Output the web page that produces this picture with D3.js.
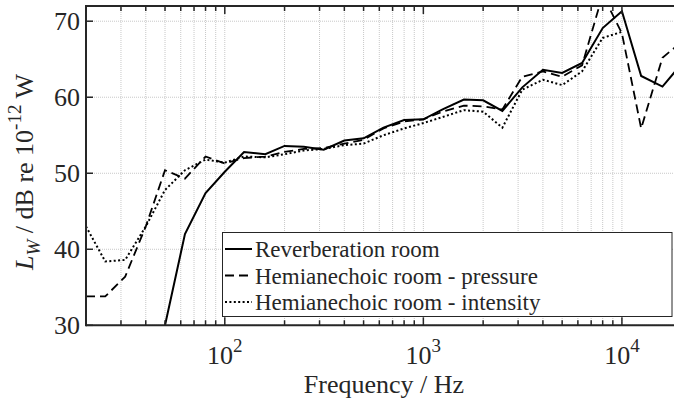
<!DOCTYPE html>
<html>
<head>
<meta charset="utf-8">
<script src="https://cdn.jsdelivr.net/npm/d3@7"></script>
<style>
  body { margin: 0; background: #fff; }
  text { font-family: "Liberation Serif", "Times New Roman", serif; fill: #262626; }
</style>
</head>
<body>
<div id="chart"></div>
<script>
// one-third octave band centres
var freqs = [20, 25, 31.5, 40, 50, 63, 80, 100, 125, 160, 200, 250, 315, 400, 500, 630, 800,
  1000, 1250, 1600, 2000, 2500, 3150, 4000, 5000, 6300, 8000, 10000, 12500, 16000, 20000]

// sound power levels (null = not shown)
var reverbRoom = [null, null, null, null, 30.0, 42.0, 47.4, 50.2, 52.8, 52.5, 53.6, 53.5, 53.1, 54.3, 54.6, 56.0, 57.0,
  57.1, 58.4, 59.7, 59.6, 58.2, 61.3, 63.6, 63.2, 64.5, 69.1, 71.3, 62.8, 61.4, 64.4]
var hemiPressure = [33.8, 33.8, 36.4, 43.0, 50.4, 49.3, 52.2, 51.3, 52.0, 52.2, 52.8, 53.2, 53.3, 53.9, 54.4, 55.9, 56.8,
  57.1, 58.1, 58.9, 58.8, 58.4, 62.7, 63.4, 62.7, 64.2, 73.5, 68.4, 55.9, 65.2, 67.3]
var hemiIntensity = [43.0, 38.4, 38.6, 43.0, 47.8, 50.4, 51.8, 51.4, 52.2, 52.1, 52.5, 53.0, 53.2, 53.7, 53.9, 55.0, 55.9,
  56.6, 57.4, 58.3, 58.1, 56.0, 61.0, 62.3, 61.6, 63.4, 67.8, 68.6, null, null, null]

var seriesNames = ['Reverberation room', 'Hemianechoic room - pressure', 'Hemianechoic room - intensity']
var yTicks = [30, 40, 50, 60, 70]
var xMajor = [100, 1000, 10000]
var xMajorExp = ['2', '3', '4']

var fullW = 674, fullH = 401
// note: "top" is a reserved window prop, so use plot* names
var plotL = 86, plotT = 6, plotB = 325.3
var plotR = 681.7 // plot runs past the cropped picture edge

var svg = d3.select('#chart').append('svg')
  .attr('width', fullW)
  .attr('height', fullH)

var x = d3.scaleLog().domain([20, 20000]).range([plotL, plotR])
var y = d3.scaleLinear().domain([30, 72]).range([plotB, plotT])

// minor x ticks (2..9 per decade)
var xMinor = []
;[10, 100, 1000, 10000].forEach(function(dec) {
  for (var k = 2; k <= 9; k++) {
    var v = dec * k
    if (v >= 20 && v <= 20000) xMinor.push(v)
  }
})
var xGridVals = xMinor.concat(xMajor)

// grid
var grid = svg.append('g').attr('class', 'grid')
grid.selectAll('.gx').data(xGridVals).enter().append('line')
  .attr('x1', d => x(d)).attr('x2', d => x(d))
  .attr('y1', plotT).attr('y2', plotB)
  .attr('stroke', '#c8c8c8').attr('stroke-width', 1)
  .attr('stroke-dasharray', '1,1')
grid.selectAll('.gy').data(yTicks).enter().append('line')
  .attr('x1', plotL).attr('x2', plotR)
  .attr('y1', d => y(d)).attr('y2', d => y(d))
  .attr('stroke', '#c8c8c8').attr('stroke-width', 1)
  .attr('stroke-dasharray', '1,1')

// clip for the curves
svg.append('clipPath').attr('id', 'plotclip')
  .append('rect').attr('x', plotL).attr('y', plotT)
  .attr('width', plotR - plotL).attr('height', plotB - plotT)

var lineFn = d3.line()
  .defined(d => d[1] !== null)
  .x(d => x(d[0]))
  .y(d => y(d[1]))

var styles = [
  { data: reverbRoom, dash: null, width: 2 },
  { data: hemiPressure, dash: '9,5', width: 1.8 },
  { data: hemiIntensity, dash: '2,2.4', width: 2 }
]

var curves = svg.append('g').attr('clip-path', 'url(#plotclip)')
styles.forEach(function(s) {
  curves.append('path')
    .datum(freqs.map((f, i) => [f, s.data[i]]))
    .attr('d', lineFn)
    .attr('fill', 'none')
    .attr('stroke', '#000')
    .attr('stroke-width', s.width)
    .attr('stroke-dasharray', s.dash)
})

// spines
var axisColor = '#262626'
svg.append('line').attr('x1', plotL).attr('x2', plotR).attr('y1', plotB).attr('y2', plotB)
  .attr('stroke', axisColor).attr('stroke-width', 2)
svg.append('line').attr('x1', plotL).attr('x2', plotR).attr('y1', plotT).attr('y2', plotT)
  .attr('stroke', axisColor).attr('stroke-width', 2)
svg.append('line').attr('x1', plotL).attr('x2', plotL).attr('y1', plotT - 1).attr('y2', plotB + 1)
  .attr('stroke', axisColor).attr('stroke-width', 2)

// inward ticks
var ticks = svg.append('g')
xGridVals.forEach(function(v) {
  var len = xMajor.indexOf(v) >= 0 ? 8 : 5
  ticks.append('line').attr('x1', x(v)).attr('x2', x(v)).attr('y1', plotB).attr('y2', plotB - len)
    .attr('stroke', axisColor).attr('stroke-width', 1.5)
  ticks.append('line').attr('x1', x(v)).attr('x2', x(v)).attr('y1', plotT).attr('y2', plotT + len)
    .attr('stroke', axisColor).attr('stroke-width', 1.5)
})
yTicks.forEach(function(v) {
  ticks.append('line').attr('x1', plotL).attr('x2', plotL + 7).attr('y1', y(v)).attr('y2', y(v))
    .attr('stroke', axisColor).attr('stroke-width', 1.5)
})

// tick labels
svg.selectAll('.ylab').data(yTicks).enter().append('text')
  .attr('x', 80).attr('y', d => y(d)).attr('dy', '0.34em')
  .attr('text-anchor', 'end').attr('font-size', 26)
  .text(d => d)

xMajor.forEach(function(v, i) {
  var t = svg.append('text').attr('x', x(v)).attr('y', 364)
    .attr('text-anchor', 'middle').attr('font-size', 26)
  t.append('tspan').text('10')
  t.append('tspan').attr('dy', -12).attr('font-size', 19).text(xMajorExp[i])
})

// axis titles
svg.append('text').attr('x', 384).attr('y', 393).attr('text-anchor', 'middle')
  .attr('font-size', 26).text('Frequency / Hz')

var yl = svg.append('text')
  .attr('transform', 'translate(33,' + 172 + ') rotate(-90)')
  .attr('text-anchor', 'middle').attr('font-size', 26)
yl.append('tspan').attr('font-style', 'italic').text('L')
yl.append('tspan').attr('font-style', 'italic').attr('font-size', 19).attr('dy', 7).text('W')
yl.append('tspan').attr('dy', -7).text(' / dB re 10')
yl.append('tspan').attr('font-size', 19).attr('dy', -12).text('-12')
yl.append('tspan').attr('dy', 12).text(' W')

// legend
var lg = svg.append('g')
lg.append('rect').attr('x', 222.5).attr('y', 232.5).attr('width', 449.5).attr('height', 84)
  .attr('fill', '#fff').attr('stroke', axisColor).attr('stroke-width', 1)
styles.forEach(function(s, i) {
  var ly = 249 + i * 26.5
  lg.append('line').attr('x1', 225).attr('x2', 252).attr('y1', ly).attr('y2', ly)
    .attr('stroke', '#000').attr('stroke-width', s.width).attr('stroke-dasharray', s.dash)
  lg.append('text').attr('x', 255).attr('y', ly + 8).attr('font-size', 23).text(seriesNames[i])
})
</script>
</body>
</html>
